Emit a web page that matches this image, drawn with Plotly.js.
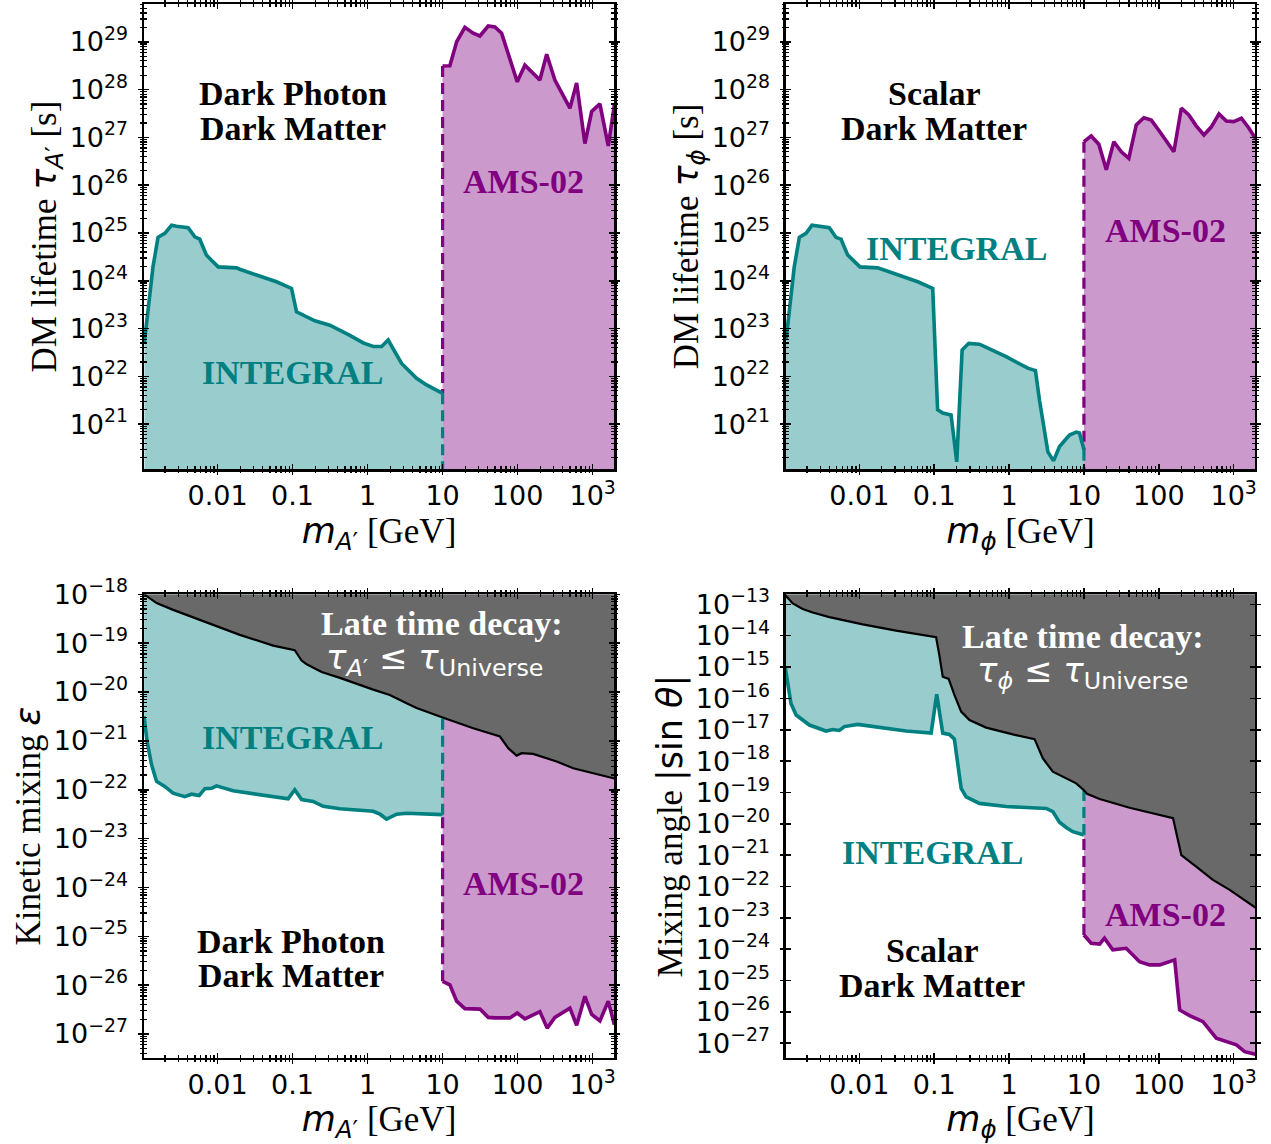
<!DOCTYPE html>
<html><head><meta charset="utf-8">
<script src="https://cdn.plot.ly/plotly-3.0.1.min.js"></script>
<style>html,body{margin:0;padding:0;background:#fff}#chart{width:1271px;height:1144px}</style>
</head><body><div id="chart"></div>
<script>
// ---------------- data ----------------
// Top-left: dark photon lifetime limits
const dpLifeIntegralMass = [1.06e-3,1.38e-3,1.61e-3,1.98e-3,2.44e-3,2.84e-3,4.06e-3,4.98e-3,5.8e-3,7.1e-3,8.3e-3,1.023e-2,1.79e-2,1.98e-2,3.31e-2,6.1e-2,9.7e-2,0.113,0.198,0.314,0.581,0.873,1.19,1.54,1.88,2.19,2.84,4.5,6.12,10];
const dpLifeIntegralTau  = [5.2e22,1.95e24,8.1e24,9.8e24,1.45e25,1.38e25,1.29e25,8.3e24,7.4e24,3.47e24,2.69e24,1.95e24,1.86e24,1.74e24,1.32e24,9.5e23,6.9e23,2.24e23,1.45e23,1.17e23,7.2e22,5.0e22,4.2e22,4.2e22,5.75e22,3.9e22,1.86e22,9.1e21,6.6e21,4.4e21];
const dpLifeAmsMass = [10,12.5,15.4,19.8,25.6,31.4,40.6,49.8,61.2,78.9,98.9,125,198,244,314,498,612,789,971,1250,1615,1950];
const dpLifeAmsTau  = [3.1e28,3.16e28,1.0e29,2.0e29,1.51e29,1.32e29,2.14e29,2.04e29,1.51e29,4.47e28,1.45e28,3.24e28,1.58e28,5.5e28,1.58e28,4.07e27,1.38e28,7.4e26,3.47e27,5.0e27,6.6e26,4.8e27];

// Top-right: scalar lifetime limits
const scLifeIntegralMass = [1.05e-3,1.35e-3,1.58e-3,1.94e-3,2.33e-3,2.77e-3,3.97e-3,4.87e-3,5.69e-3,6.98e-3,8.13e-3,1.02e-2,1.76e-2,3.43e-2,6.03e-2,9.55e-2,0.111,0.130,0.168,0.200,0.236,0.289,0.402,0.914,1.78,2.25,2.55,3.30,3.93,4.72,6.41,7.89,8.73,10];
const scLifeIntegralTau  = [5.75e22,1.95e24,8.1e24,9.8e24,1.45e25,1.38e25,1.29e25,8.1e24,7.4e24,3.47e24,2.69e24,1.95e24,1.86e24,1.32e24,9.5e23,6.9e23,2.0e21,1.7e21,1.55e21,1.62e20,3.55e22,4.9e22,4.7e22,2.57e22,1.48e22,1.32e22,3.16e21,2.63e20,1.70e20,3.4e20,5.9e20,6.8e20,6.5e20,2.9e20];
const scLifeAmsMass = [10,12.5,15.8,19.9,25.1,31.6,39.8,50,63.1,79.4,100,126,159,200,252,316,401,504,637,798,1000,1268,1603,1950];
const scLifeAmsTau  = [8.1e26,1.07e27,7.2e26,2.09e26,8.1e26,5.0e26,3.63e26,1.82e27,2.57e27,2.29e27,1.41e27,8.1e26,5.0e26,4.07e27,2.95e27,1.74e27,1.12e27,1.66e27,3.09e27,2.19e27,2.14e27,2.51e27,1.55e27,9.5e26];

// Bottom-left: kinetic mixing
const dpMixUniverseMass = [1.05e-3,1.54e-3,2.56e-3,7.13e-3,1.98e-2,5.51e-2,0.107,0.132,0.154,0.244,0.428,1.19,1.98,3.31,4.5,10,25.6,58.1,75,97,113,161,331,551,1950];
const dpMixUniverseEps  = [1.0e-18,6.6e-19,4.8e-19,2.69e-19,1.48e-19,8.9e-20,7.2e-20,4.4e-20,3.7e-20,2.57e-20,1.95e-20,1.12e-20,8.7e-21,5.9e-21,4.7e-21,3.0e-21,1.82e-21,1.23e-21,7.1e-22,5.0e-22,5.6e-22,5.4e-22,3.8e-22,2.75e-22,1.7e-22];
const dpMixIntegralMass = [1.05e-3,1.15e-3,1.32e-3,1.54e-3,1.98e-3,2.56e-3,3.66e-3,4.5e-3,5.69e-3,6.78e-3,8.32e-3,9.7e-3,1.61e-2,3.31e-2,8.73e-2,0.107,0.132,0.188,0.256,0.428,1.19,1.46,1.79,2.44,3.31,10];
const dpMixIntegralEps  = [3.16e-21,9.8e-22,3.24e-22,1.48e-22,1.17e-22,8.5e-23,7.2e-23,8.1e-23,7.6e-23,1.05e-22,1.07e-22,1.2e-22,9.5e-23,8.1e-23,6.5e-23,1.0e-22,6.3e-23,5.75e-23,4.57e-23,4.07e-23,3.63e-23,3.16e-23,2.51e-23,3.16e-23,3.31e-23,3.09e-23];
const dpMixAmsMass = [10,12.5,15.4,19.8,31.4,40.6,49.8,78.9,98.9,125,198,248,314,498,612,789,971,1250,1615,1950];
const dpMixAmsEps  = [1.2e-26,1.02e-26,4.7e-27,3.31e-27,3.24e-27,2.19e-27,2.14e-27,2.14e-27,2.69e-27,2.04e-27,2.88e-27,1.32e-27,2.19e-27,3.39e-27,1.51e-27,5.9e-27,2.51e-27,1.86e-27,4.7e-27,1.55e-27];

// Bottom-right: scalar mixing angle
const scMixUniverseMass = [1.02e-3,1.29e-3,1.75e-3,2.38e-3,3.97e-3,1.11e-2,3.09e-2,0.106,0.117,0.130,0.156,0.186,0.229,0.296,0.494,1.12,2.19,2.82,3.84,5.22,7.89,10,11.0,16.2,40.7,155,200,316,528,885,1950];
const scMixUniverseSin  = [2.0e-13,1.07e-13,7.1e-14,5.5e-14,3.9e-14,2.29e-14,1.45e-14,8.9e-15,2.4e-15,4.9e-16,4.17e-16,1.29e-16,3.8e-17,2.04e-17,1.17e-17,7.1e-18,5.0e-18,1.23e-18,4.57e-19,3.16e-19,1.95e-19,1.17e-19,9.1e-20,6.2e-20,3.24e-20,1.51e-20,1.0e-21,4.27e-22,1.62e-22,7.8e-23,2.14e-23];
const scMixIntegralMass = [1.02e-3,1.10e-3,1.22e-3,1.43e-3,2.15e-3,3.59e-3,4.40e-3,5.41e-3,6.30e-3,9.5e-3,1.85e-2,4.21e-2,9.1e-2,0.108,0.130,0.160,0.186,0.229,0.267,0.402,0.914,3.14,3.84,4.72,5.79,7.11,10];
const scMixIntegralSin  = [1.02e-15,2.69e-16,6.9e-17,2.95e-17,1.41e-17,9.1e-18,1.02e-17,9.5e-18,1.26e-17,1.48e-17,1.17e-17,9.1e-18,7.8e-18,1.35e-16,7.8e-18,7.1e-18,5.0e-18,1.35e-19,7.2e-20,4.47e-20,3.55e-20,3.09e-20,2.45e-20,1.12e-20,7.6e-21,5.6e-21,4.4e-21];
const scMixAmsMass = [10,12.5,16.2,18.8,24.3,36.7,55.3,75.3,103,163,190,258,389,586,1086,1403,1950];
const scMixAmsSin  = [2.82e-24,1.55e-24,1.45e-24,2.24e-24,9.5e-25,1.07e-24,3.98e-25,3.16e-25,3.16e-25,4.57e-25,1.15e-26,7.6e-27,4.9e-27,1.45e-27,8.9e-28,5.4e-28,4.47e-28];

// tick labels
const xTickVals = [0.01, 0.1, 1, 10, 100, 1000];
const xTickText = ['0.01', '0.1', '1', '10', '100', '10<sup>3</sup>'];
const tauExponents = [21, 22, 23, 24, 25, 26, 27, 28, 29];
const epsExponents = [-27, -26, -25, -24, -23, -22, -21, -20, -19, -18];
const sinExponents = [-27, -26, -25, -24, -23, -22, -21, -20, -19, -18, -17, -16, -15, -14, -13];

// ---------------- styling / layout ----------------
const TEAL = '#008080', PURPLE = '#800080';
const TEAL_FILL = 'rgba(0,128,128,0.4)', PURPLE_FILL = 'rgba(128,0,128,0.4)', GREY = '#696969';
const SANS = 'DejaVu Sans, Verdana, sans-serif';
const SERIF = 'Liberation Serif, Times New Roman, serif';
const XR = [-2.98, 3.285];
const YR_TAU = [20.06, 29.79];
const YR_EPS = [-27.49, -18.0];
const YR_SIN = [-27.47, -12.68];
const DOM_L = [0.1133, 0.4831], DOM_R = [0.6184, 0.9874];
const DOM_T = [0.5900, 0.9965], DOM_B = [0.0752, 0.4805];
const TICK_SIZE = 27, TITLE_SIZE = 35, NOTE_SIZE = 34;

function minorVals(r) {
  const out = [];
  for (let k = Math.floor(r[0]); k <= Math.ceil(r[1]); k++) {
    for (let j = 2; j <= 9; j++) {
      const v = j * Math.pow(10, k), l = Math.log10(v);
      if (l > r[0] && l < r[1]) out.push(v);
    }
  }
  return out;
}
const powText = e => '10<sup>' + (e < 0 ? '\u2212' + (-e) : e) + '</sup>';
const pow10 = e => Math.pow(10, e);

function mainAxis(range, domain, anchor, tv, tt, minor, title, standoff, isX) {
  const ax = {
    type: 'log', range: range, domain: domain, anchor: anchor,
    tickmode: 'array', tickvals: tv, ticktext: tt,
    ticks: 'inside', ticklen: 5, tickwidth: 1.6, tickcolor: '#000',
    mirror: 'allticks', showline: true, linewidth: 2.5, linecolor: '#000',
    showgrid: false, zeroline: false,
    tickfont: {family: SANS, size: TICK_SIZE, color: '#000'},
    ticklabelstandoff: isX ? 1 : 8,
    title: {text: title, font: {family: SERIF, size: TITLE_SIZE, color: '#000'}, standoff: standoff}
  };
  if (minor) ax.minor = {tickmode: 'array', tickvals: minor, ticks: 'inside', ticklen: 3, tickwidth: 1.2, tickcolor: '#000', showgrid: false};
  return ax;
}
function overAxis(range, domain, anchor, over, tv, minor) {
  const ax = {
    type: 'log', range: range, domain: domain, anchor: anchor, overlaying: over,
    tickmode: 'array', tickvals: tv, ticks: 'outside', ticklen: 5, tickwidth: 1.6, tickcolor: '#000',
    mirror: 'allticks', showline: false, showticklabels: false, showgrid: false, zeroline: false
  };
  if (minor) ax.minor = {tickmode: 'array', tickvals: minor, ticks: 'outside', ticklen: 3, tickwidth: 1.2, tickcolor: '#000', showgrid: false};
  return ax;
}

const math = s => '<span style="font-family:DejaVu Sans">' + s + '</span>';
const PRIME_A = '<i>A</i>\u2032';
const xMinor = minorVals(XR);
const tauVals = tauExponents.map(pow10), tauText = tauExponents.map(powText);
const epsVals = epsExponents.map(pow10), epsText = epsExponents.map(powText);
const sinVals = sinExponents.map(pow10), sinText = sinExponents.map(powText);

const titleMA = math('<i>m</i><sub>' + PRIME_A + '</sub>') + ' [GeV]';
const titleMP = math('<i>m</i><sub><i>\u03D5</i></sub>') + ' [GeV]';

const layout = {
  width: 1271, height: 1144, margin: {l: 0, r: 0, t: 0, b: 0},
  paper_bgcolor: '#fff', plot_bgcolor: '#fff', showlegend: false,
  xaxis:  mainAxis(XR, DOM_L, 'y',  xTickVals, xTickText, xMinor, titleMA, 4, true),
  yaxis:  mainAxis(YR_TAU, DOM_T, 'x', tauVals, tauText, minorVals(YR_TAU), 'DM lifetime ' + math('<i>\u03C4</i><sub>' + PRIME_A + '</sub>') + ' [s]', 3, false),
  xaxis2: mainAxis(XR, DOM_R, 'y2', xTickVals, xTickText, xMinor, titleMP, 4, true),
  yaxis2: mainAxis(YR_TAU, DOM_T, 'x2', tauVals, tauText, minorVals(YR_TAU), 'DM lifetime ' + math('<i>\u03C4</i><sub><i>\u03D5</i></sub>') + ' [s]', 3, false),
  xaxis3: mainAxis(XR, DOM_L, 'y3', xTickVals, xTickText, xMinor, titleMA, 4, true),
  yaxis3: mainAxis(YR_EPS, DOM_B, 'x3', epsVals, epsText, minorVals(YR_EPS), 'Kinetic mixing ' + math('<i>\u03B5</i>'), 3, false),
  xaxis4: mainAxis(XR, DOM_R, 'y4', xTickVals, xTickText, xMinor, titleMP, 4, true),
  yaxis4: mainAxis(YR_SIN, DOM_B, 'x4', sinVals, sinText, null, 'Mixing angle ' + math('|sin <i>\u03B8</i>|'), 3, false),
  xaxis5: overAxis(XR, DOM_L, 'y', 'x', xTickVals, xMinor),
  yaxis5: overAxis(YR_TAU, DOM_T, 'x', 'y', tauVals, minorVals(YR_TAU)),
  xaxis6: overAxis(XR, DOM_R, 'y2', 'x2', xTickVals, xMinor),
  yaxis6: overAxis(YR_TAU, DOM_T, 'x2', 'y2', tauVals, minorVals(YR_TAU)),
  xaxis7: overAxis(XR, DOM_L, 'y3', 'x3', xTickVals, xMinor),
  yaxis7: overAxis(YR_EPS, DOM_B, 'x3', 'y3', epsVals, minorVals(YR_EPS)),
  xaxis8: overAxis(XR, DOM_R, 'y4', 'x4', xTickVals, xMinor),
  yaxis8: overAxis(YR_SIN, DOM_B, 'x4', 'y4', sinVals, null),
  annotations: []
};

// ---------------- traces ----------------
const traces = [];
const last = a => a[a.length - 1];
function fillBelow(m, v, yr, color, xa, ya) {
  traces.push({type: 'scatter', mode: 'lines', x: m.concat([last(m), m[0]]), y: v.concat([pow10(yr[0]), pow10(yr[0])]),
    fill: 'toself', fillcolor: color, line: {width: 0}, hoverinfo: 'skip', xaxis: xa, yaxis: ya});
}
function fillAbove(m, v, yr, color, xa, ya) {
  traces.push({type: 'scatter', mode: 'lines', x: m.concat([last(m), m[0]]), y: v.concat([pow10(yr[1]), pow10(yr[1])]),
    fill: 'toself', fillcolor: color, line: {width: 0}, hoverinfo: 'skip', xaxis: xa, yaxis: ya});
}
function line(m, v, color, width, xa, ya, dash) {
  traces.push({type: 'scatter', mode: 'lines', x: m, y: v, line: {color: color, width: width, dash: dash || 'solid'},
    hoverinfo: 'skip', xaxis: xa, yaxis: ya});
}
const DASH = '11px,6px';
const LW = 3.6, DW = 3.2;

// Panel 1
fillBelow(dpLifeIntegralMass, dpLifeIntegralTau, YR_TAU, TEAL_FILL, 'x', 'y');
fillBelow(dpLifeAmsMass, dpLifeAmsTau, YR_TAU, PURPLE_FILL, 'x', 'y');
line([dpLifeAmsMass[0], dpLifeAmsMass[0]], [dpLifeAmsTau[0], last(dpLifeIntegralTau)], PURPLE, DW, 'x', 'y', DASH);
line([last(dpLifeIntegralMass), last(dpLifeIntegralMass)], [last(dpLifeIntegralTau), pow10(YR_TAU[0])], TEAL, DW, 'x', 'y', DASH);
line(dpLifeIntegralMass, dpLifeIntegralTau, TEAL, LW, 'x', 'y');
line(dpLifeAmsMass, dpLifeAmsTau, PURPLE, LW, 'x', 'y');

// Panel 2
fillBelow(scLifeIntegralMass, scLifeIntegralTau, YR_TAU, TEAL_FILL, 'x2', 'y2');
fillBelow(scLifeAmsMass, scLifeAmsTau, YR_TAU, PURPLE_FILL, 'x2', 'y2');
line([scLifeAmsMass[0], scLifeAmsMass[0]], [scLifeAmsTau[0], last(scLifeIntegralTau)], PURPLE, DW, 'x2', 'y2', DASH);
line([last(scLifeIntegralMass), last(scLifeIntegralMass)], [last(scLifeIntegralTau), pow10(YR_TAU[0])], TEAL, DW, 'x2', 'y2', DASH);
line(scLifeIntegralMass, scLifeIntegralTau, TEAL, LW, 'x2', 'y2');
line(scLifeAmsMass, scLifeAmsTau, PURPLE, LW, 'x2', 'y2');

// Panel 3
fillAbove(dpMixIntegralMass, dpMixIntegralEps, YR_EPS, TEAL_FILL, 'x3', 'y3');
fillAbove(dpMixAmsMass, dpMixAmsEps, YR_EPS, PURPLE_FILL, 'x3', 'y3');
fillAbove(dpMixUniverseMass, dpMixUniverseEps, YR_EPS, GREY, 'x3', 'y3');
const dpU10 = dpMixUniverseEps[dpMixUniverseMass.indexOf(10)];
line([dpMixAmsMass[0], dpMixAmsMass[0]], [dpMixAmsEps[0], last(dpMixIntegralEps)], PURPLE, DW, 'x3', 'y3', DASH);
line([last(dpMixIntegralMass), last(dpMixIntegralMass)], [last(dpMixIntegralEps), dpU10], TEAL, DW, 'x3', 'y3', DASH);
line(dpMixIntegralMass, dpMixIntegralEps, TEAL, LW, 'x3', 'y3');
line(dpMixAmsMass, dpMixAmsEps, PURPLE, LW, 'x3', 'y3');
line(dpMixUniverseMass, dpMixUniverseEps, '#000', 2.2, 'x3', 'y3');

// Panel 4
fillAbove(scMixIntegralMass, scMixIntegralSin, YR_SIN, TEAL_FILL, 'x4', 'y4');
fillAbove(scMixAmsMass, scMixAmsSin, YR_SIN, PURPLE_FILL, 'x4', 'y4');
fillAbove(scMixUniverseMass, scMixUniverseSin, YR_SIN, GREY, 'x4', 'y4');
const scU10 = scMixUniverseSin[scMixUniverseMass.indexOf(10)];
line([scMixAmsMass[0], scMixAmsMass[0]], [scMixAmsSin[0], last(scMixIntegralSin)], PURPLE, DW, 'x4', 'y4', DASH);
line([last(scMixIntegralMass), last(scMixIntegralMass)], [last(scMixIntegralSin), scU10], TEAL, DW, 'x4', 'y4', DASH);
line(scMixIntegralMass, scMixIntegralSin, TEAL, LW, 'x4', 'y4');
line(scMixAmsMass, scMixAmsSin, PURPLE, LW, 'x4', 'y4');
line(scMixUniverseMass, scMixUniverseSin, '#000', 2.2, 'x4', 'y4');

// empty traces so overlay tick axes are drawn
[5, 6, 7, 8].forEach(i => traces.push({type: 'scatter', mode: 'lines', x: [], y: [], xaxis: 'x' + i, yaxis: 'y' + i, hoverinfo: 'skip'}));

// ---------------- annotations ----------------
function note(text, x, y, color, xa, ya, family) {
  layout.annotations.push({text: text, x: x, y: y, xref: xa, yref: ya, showarrow: false,
    xanchor: 'center', yanchor: 'middle', font: {family: family || SERIF, size: NOTE_SIZE, color: color}});
}
note('<b>Dark Photon</b>', -1.0, 27.91, '#000', 'x', 'y');
note('<b>Dark Matter</b>', -1.0, 27.19, '#000', 'x', 'y');
note('<b>INTEGRAL</b>', -1.0, 22.07, TEAL, 'x', 'y');
note('<b>AMS-02</b>', 2.084, 26.07, PURPLE, 'x', 'y');

note('<b>Scalar</b>', -0.997, 27.91, '#000', 'x2', 'y2');
note('<b>Dark Matter</b>', -0.997, 27.19, '#000', 'x2', 'y2');
note('<b>INTEGRAL</b>', -0.703, 24.68, TEAL, 'x2', 'y2');
note('<b>AMS-02</b>', 2.091, 25.06, PURPLE, 'x2', 'y2');

note('<b>Late time decay:</b>', 0.99, -18.60, '#fff', 'x3', 'y3');
note('<i>\u03C4</i><sub>' + PRIME_A + '</sub> \u2264 <i>\u03C4</i><sub>Universe</sub>', 0.897, -19.34, '#fff', 'x3', 'y3', SANS);
note('<b>INTEGRAL</b>', -1.005, -20.94, TEAL, 'x3', 'y3');
note('<b>AMS-02</b>', 2.084, -23.92, PURPLE, 'x3', 'y3');
note('<b>Dark Photon</b>', -1.02, -25.11, '#000', 'x3', 'y3');
note('<b>Dark Matter</b>', -1.02, -25.81, '#000', 'x3', 'y3');

note('<b>Late time decay:</b>', 0.981, -14.01, '#fff', 'x4', 'y4');
note('<i>\u03C4</i><sub><i>\u03D5</i></sub> \u2264 <i>\u03C4</i><sub>Universe</sub>', 0.981, -15.19, '#fff', 'x4', 'y4', SANS);
note('<b>INTEGRAL</b>', -1.024, -20.90, TEAL, 'x4', 'y4');
note('<b>AMS-02</b>', 2.091, -22.88, PURPLE, 'x4', 'y4');
note('<b>Scalar</b>', -1.024, -24.05, '#000', 'x4', 'y4');
note('<b>Dark Matter</b>', -1.024, -25.17, '#000', 'x4', 'y4');

Plotly.newPlot('chart', traces, layout, {staticPlot: true, displayModeBar: false});
</script></body></html>
